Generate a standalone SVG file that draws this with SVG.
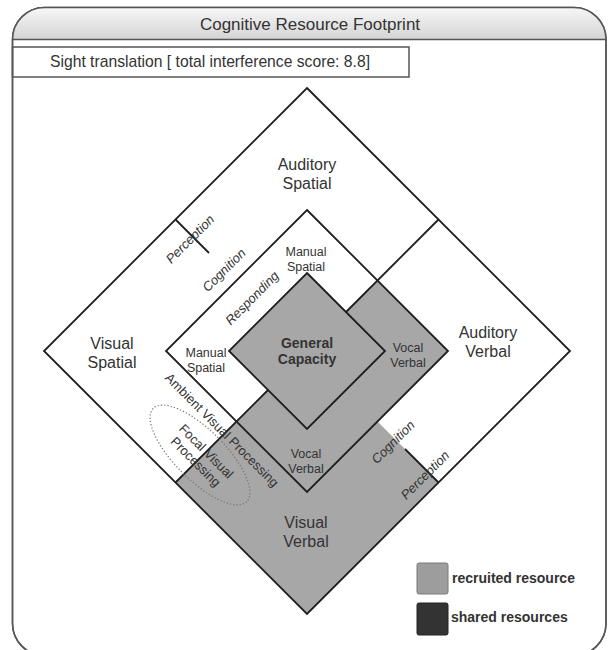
<svg xmlns="http://www.w3.org/2000/svg" width="608" height="650" viewBox="0 0 608 650">
  <defs>
    <linearGradient id="hdrGrad" x1="0" y1="0" x2="0" y2="1">
      <stop offset="0" stop-color="#ffffff"/>
      <stop offset="1" stop-color="#d4d4d4"/>
    </linearGradient>
    <clipPath id="frameClip">
      <rect x="12.5" y="7.5" width="593.5" height="648" rx="32"/>
    </clipPath>
  </defs>
  <style>
    .frame{fill:#ffffff;stroke:#555;stroke-width:1.5}
    .rule{stroke:#555;stroke-width:1.5;fill:none}
    .edge{fill:none;stroke:#1e1e1e;stroke-width:1.8;stroke-linejoin:miter}
    .rec{fill:#a7a7a7}
    .txt{font-family:"Liberation Sans",Arial,sans-serif;fill:#333;text-anchor:middle}
    .big{font-size:16px}
    .sm{font-size:12.5px}
    .stage{font-size:13px;font-style:italic}
    .proc{font-size:13px}
    .bold{font-weight:bold;font-size:14px}
    .dot{fill:none;stroke:#777;stroke-width:1.2;stroke-dasharray:1.3 2}
  </style>

  <!-- outer frame with header band -->
  <g id="frame">
    <rect class="frame" x="12.5" y="7.5" width="593.5" height="648" rx="32"/>
    <rect x="0" y="0" width="608" height="39.5" fill="url(#hdrGrad)" clip-path="url(#frameClip)"/>
    <rect x="12.5" y="7.5" width="593.5" height="648" rx="32" class="rule"/>
    <line class="rule" x1="12.5" y1="39.5" x2="606" y2="39.5"/>
    <text class="txt" x="310" y="30" font-size="17">Cognitive Resource Footprint</text>
  </g>

  <g id="task">
    <rect class="rule" x="12.5" y="47" width="396.5" height="30" fill="#fff"/>
    <text class="txt" x="210" y="66.5" font-size="15.7">Sight translation [ total interference score: 8.8]</text>
  </g>

  <!-- perception ring base -->
  <g id="outer-ring">
    <polygon points="307,88 570,351 307,614 44,351" fill="#fff"/>
  </g>

  <g id="visual-verbal">
    <polygon class="rec" points="236.5,421.5 175.5,482.5 307,614 438.5,482.5 377.5,421.5 307,492"/>
    <text class="txt big" x="306" y="528">Visual</text>
    <text class="txt big" x="306" y="547">Verbal</text>
  </g>

  <g id="vocal-verbal">
    <polygon class="rec" points="346,312 377.5,280.5 448,351 307,492 236.5,421.5 268,390 307,429 385,351"/>
  </g>

  <g id="general-capacity">
    <polygon class="rec" points="307,273 385,351 307,429 229,351"/>
  </g>

  <!-- outlines and dividers -->
  <g id="connectors">
    <polygon class="edge" points="307,88 570,351 307,614 44,351"/>
    <polygon class="edge" points="307,210 448,351 307,492 166,351"/>
    <polygon class="edge" points="307,273 385,351 307,429 229,351"/>
    <line class="edge" x1="346" y1="312" x2="438.5" y2="219.5"/>
    <line class="edge" x1="268" y1="390" x2="175.5" y2="482.5"/>
    <line class="edge" x1="175.5" y1="219.5" x2="209" y2="253"/>
    <line class="edge" x1="438.5" y1="482.5" x2="405" y2="449"/>
  </g>

  <g id="auditory-spatial">
    <text class="txt big" x="307" y="170">Auditory</text>
    <text class="txt big" x="307" y="189">Spatial</text>
  </g>
  <g id="visual-spatial">
    <text class="txt big" x="112" y="349">Visual</text>
    <text class="txt big" x="112" y="368">Spatial</text>
  </g>
  <g id="auditory-verbal">
    <text class="txt big" x="488" y="338">Auditory</text>
    <text class="txt big" x="488" y="357">Verbal</text>
  </g>

  <g id="manual-spatial-top">
    <text class="txt sm" x="306" y="256">Manual</text>
    <text class="txt sm" x="306" y="271">Spatial</text>
  </g>
  <g id="manual-spatial-left">
    <text class="txt sm" x="206" y="357">Manual</text>
    <text class="txt sm" x="206" y="372">Spatial</text>
  </g>
  <g id="vocal-verbal-right">
    <text class="txt sm" x="408" y="352">Vocal</text>
    <text class="txt sm" x="408" y="367">Verbal</text>
  </g>
  <g id="vocal-verbal-bottom">
    <text class="txt sm" x="306" y="458">Vocal</text>
    <text class="txt sm" x="306" y="473">Verbal</text>
  </g>
  <g id="general-capacity-label">
    <text class="txt bold" x="307" y="348" fill="#222">General</text>
    <text class="txt bold" x="307" y="364" fill="#222">Capacity</text>
  </g>

  <!-- stage labels -->
  <g id="stages">
    <text class="txt stage" dominant-baseline="central" transform="translate(190,239) rotate(-45)">Perception</text>
    <text class="txt stage" dominant-baseline="central" transform="translate(224,270) rotate(-45)">Cognition</text>
    <text class="txt stage" dominant-baseline="central" transform="translate(252,298) rotate(-45)">Responding</text>
    <text class="txt stage" dominant-baseline="central" transform="translate(393,442) rotate(-45)">Cognition</text>
    <text class="txt stage" dominant-baseline="central" transform="translate(425,475) rotate(-45)">Perception</text>
  </g>

  <g id="ambient-visual">
    <text class="txt proc" dominant-baseline="central" transform="translate(222,430) rotate(45)">Ambient Visual Processing</text>
  </g>
  <g id="focal-visual">
    <ellipse class="dot" cx="0" cy="0" rx="66" ry="25" transform="translate(200,455) rotate(45)"/>
    <g transform="translate(201,456.5) rotate(45)">
      <text class="txt proc" x="0" y="-7.5" dominant-baseline="central">Focal Visual</text>
      <text class="txt proc" x="0" y="7.5" dominant-baseline="central">Processing</text>
    </g>
  </g>

  <!-- legend -->
  <g id="legend-recruited">
    <rect x="417" y="563" width="31" height="31" rx="2" fill="#9d9d9d" stroke="#7a7a7a" stroke-width="1"/>
    <text class="txt bold" x="452" y="583" text-anchor="start" style="text-anchor:start" fill="#222">recruited resource</text>
  </g>
  <g id="legend-shared">
    <rect x="417" y="603" width="31" height="32" rx="2" fill="#333" stroke="#222" stroke-width="1"/>
    <text class="txt bold" x="451" y="622" style="text-anchor:start" fill="#222">shared resources</text>
  </g>
</svg>
